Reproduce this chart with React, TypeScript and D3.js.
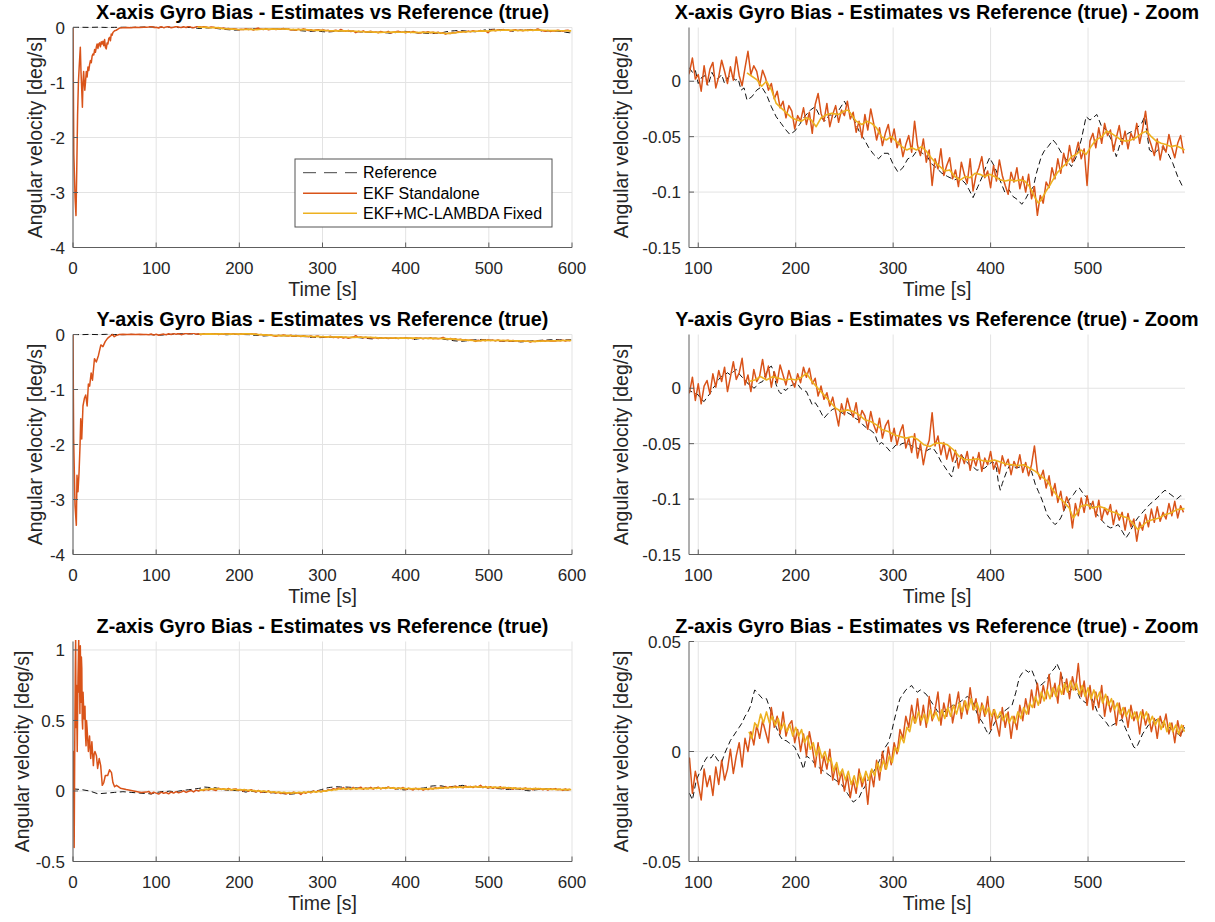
import React from 'react';
import * as d3 from 'd3';

type P = [number, number];

// ---------------- DATA ----------------
// EKF standalone estimates sampled every 3 s starting at 91 s (zoom window part)
const EKF_T0 = 91;
const EKF_DT = 3;

const ekfXZoom = [0.008,0.021,0.002,0.006,-0.009,0.014,-0.003,0.011,0.017,-0.006,
0.004,0.019,0.009,-0.002,0.013,0.001,0.022,0.005,-0.004,0.012,
0.027,0.006,0.014,0.009,-0.004,0.01,0.003,-0.008,-0.002,-0.016,
-0.009,-0.024,-0.018,-0.033,-0.022,-0.027,-0.043,-0.031,-0.036,-0.024,
-0.039,-0.028,-0.047,-0.021,-0.011,-0.029,-0.036,-0.02,-0.041,-0.03,
-0.022,-0.037,-0.026,-0.031,-0.018,-0.034,-0.028,-0.046,-0.036,-0.051,
-0.03,-0.044,-0.025,-0.038,-0.053,-0.042,-0.058,-0.047,-0.039,-0.055,
-0.043,-0.06,-0.052,-0.068,-0.057,-0.049,-0.064,-0.036,-0.058,-0.067,
-0.052,-0.073,-0.062,-0.094,-0.07,-0.079,-0.061,-0.085,-0.076,-0.069,
-0.088,-0.08,-0.095,-0.073,-0.084,-0.092,-0.07,-0.099,-0.085,-0.078,
-0.068,-0.087,-0.081,-0.096,-0.076,-0.09,-0.071,-0.085,-0.094,-0.102,
-0.082,-0.091,-0.078,-0.097,-0.086,-0.1,-0.084,-0.106,-0.095,-0.121,
-0.103,-0.11,-0.091,-0.096,-0.078,-0.088,-0.07,-0.083,-0.065,-0.076,
-0.058,-0.073,-0.066,-0.055,-0.07,-0.061,-0.094,-0.054,-0.047,-0.06,
-0.042,-0.056,-0.038,-0.049,-0.044,-0.063,-0.051,-0.04,-0.057,-0.045,
-0.061,-0.047,-0.053,-0.038,-0.056,-0.043,-0.027,-0.05,-0.058,-0.067,
-0.052,-0.071,-0.058,-0.064,-0.048,-0.06,-0.069,-0.056,-0.049,-0.065];

const ekfYZoom = [-0.004,0.01,-0.011,0.004,-0.014,0.002,0.007,-0.005,0.013,0.001,
0.016,0.006,0.019,-0.003,0.01,0.024,0.008,0.014,0.027,0.003,
0.012,-0.003,0.017,0.006,0.011,0.026,0.009,0.02,0.001,0.015,
0.005,0.021,0.012,0.003,0.016,0.007,0.001,0.013,0.005,0.019,
0.01,0.018,0.004,0.009,-0.007,0.002,-0.01,-0.004,-0.016,-0.008,
-0.021,-0.034,-0.014,-0.024,-0.009,-0.019,-0.026,-0.013,-0.031,-0.02,
-0.025,-0.037,-0.021,-0.033,-0.04,-0.027,-0.045,-0.034,-0.029,-0.048,
-0.036,-0.051,-0.04,-0.033,-0.054,-0.045,-0.058,-0.041,-0.063,-0.05,
-0.069,-0.055,-0.047,-0.022,-0.052,-0.043,-0.06,-0.049,-0.064,-0.053,
-0.066,-0.056,-0.072,-0.06,-0.068,-0.057,-0.074,-0.062,-0.07,-0.058,
-0.075,-0.063,-0.069,-0.057,-0.073,-0.066,-0.077,-0.061,-0.07,-0.064,
-0.078,-0.066,-0.072,-0.06,-0.076,-0.067,-0.079,-0.069,-0.052,-0.075,
-0.082,-0.074,-0.09,-0.079,-0.097,-0.086,-0.103,-0.093,-0.11,-0.098,
-0.105,-0.126,-0.104,-0.115,-0.099,-0.112,-0.097,-0.109,-0.102,-0.116,
-0.101,-0.119,-0.108,-0.114,-0.105,-0.123,-0.11,-0.119,-0.112,-0.128,
-0.113,-0.125,-0.118,-0.138,-0.121,-0.128,-0.114,-0.125,-0.109,-0.121,
-0.107,-0.12,-0.112,-0.118,-0.104,-0.115,-0.102,-0.117,-0.106,-0.112];

const ekfZZoom = [-0.003,-0.019,-0.009,-0.015,-0.022,-0.008,-0.016,-0.011,-0.02,-0.007,
-0.015,-0.004,-0.013,-0.008,0.001,-0.01,-0.002,0.004,-0.007,0.006,
0.0,0.009,0.003,0.012,0.006,0.014,0.009,0.004,0.02,0.011,
0.016,0.008,0.018,0.007,0.012,0.014,0.004,0.01,0.0,0.008,
-0.002,0.009,0.002,-0.007,0.004,-0.01,-0.002,-0.008,0.001,-0.013,
-0.006,-0.015,-0.009,-0.018,-0.011,-0.021,-0.013,-0.019,-0.008,-0.016,
-0.011,-0.024,-0.009,-0.016,-0.004,-0.013,0.0,-0.008,0.002,-0.006,
0.004,-0.001,0.01,0.006,0.016,0.011,0.021,0.013,0.024,0.012,
0.021,0.011,0.025,0.014,0.019,0.027,0.012,0.022,0.016,0.026,
0.013,0.02,0.027,0.015,0.023,0.017,0.029,0.019,0.024,0.013,
0.022,0.016,0.025,0.01,0.019,0.013,0.007,0.02,0.011,0.018,
0.006,0.016,0.01,0.021,0.014,0.024,0.017,0.028,0.02,0.031,
0.022,0.03,0.024,0.035,0.025,0.031,0.022,0.036,0.026,0.033,
0.024,0.034,0.028,0.04,0.025,0.032,0.021,0.03,0.019,0.027,
0.02,0.03,0.016,0.025,0.018,0.023,0.012,0.022,0.015,0.02,
0.011,0.021,0.014,0.018,0.008,0.019,0.012,0.017,0.009,0.015,
0.006,0.016,0.011,0.017,0.008,0.013,0.004,0.014,0.007,0.012];

// EKF standalone start-up transient (time [s], value)
const ekfXStart: P[] = [[0,0],[1,-2.3],[2.5,-3.1],[3.6,-3.42],[4.5,-2.6],[5.5,-1.6],[6.5,-1.0],[7.5,-0.7],[8.8,-0.36],[9.6,-0.8],[10.3,-1.05],[11.3,-1.45],[12,-1.0],[12.8,-0.8],[13.5,-1.0],[14.2,-1.14],[15,-1.0],[16,-0.8],[17,-0.9],[18,-0.72],[19,-0.78],[20,-0.67],[21,-0.6],[22,-0.64],[23,-0.52],[24,-0.48],[25,-0.5],[26,-0.4],[27,-0.45],[28,-0.36],[29,-0.3],[30,-0.38],[31,-0.3],[32,-0.28],[33,-0.35],[34,-0.26],[35,-0.3],[36,-0.25],[37,-0.33],[38,-0.22],[39,-0.36],[40,-0.39],[41,-0.28],[42,-0.3],[43,-0.2],[44,-0.18],[45,-0.24],[46,-0.12],[47,-0.14],[48,-0.09],[50,-0.06],[52,-0.05],[54,-0.03],[56,-0.01],[60,-0.005],[65,0.002],[70,-0.003],[75,0.004],[80,0.0],[85,0.006],[88,0.003]];
const ekfYStart: P[] = [[0,0],[0.8,-1.9],[2.4,-3.1],[4,-3.47],[4.8,-2.56],[6,-2.86],[7.3,-2.5],[8.5,-2.0],[9.3,-1.53],[10.5,-1.9],[12,-1.3],[13.7,-1.16],[15.3,-1.1],[17,-1.3],[18.5,-0.9],[20,-0.94],[21.8,-0.7],[23.4,-0.83],[25.8,-0.44],[28,-0.5],[30.6,-0.38],[33.5,-0.19],[36,-0.22],[38.7,-0.13],[41.5,-0.07],[44,-0.04],[47.5,0],[49.6,-0.04],[51.6,-0.02],[55.6,0],[60,0.003],[65,-0.002],[70,0.004],[75,0.0],[80,0.003],[85,-0.002],[88,0.002]];
const ekfZStart: P[] = [[0,0],[0.5,0.28],[1.4,-0.4],[2.3,0.51],[2.8,0.9],[3.2,1.08],[3.7,0.45],[4.2,0.75],[5.1,0.28],[5.6,0.6],[6,0.8],[6.9,1.08],[7.4,0.7],[7.9,0.87],[8.3,0.55],[8.8,1.03],[9.7,0.63],[10.1,0.95],[10.6,0.87],[11.1,0.5],[11.6,0.44],[12.1,0.7],[12.5,0.63],[13.4,0.51],[14.4,0.6],[15,0.4],[15.7,0.32],[16.3,0.5],[17,0.44],[18.5,0.28],[19.9,0.39],[21.3,0.23],[22.7,0.35],[24.5,0.18],[25.4,0.26],[26.4,0.28],[28.2,0.25],[29.6,0.16],[31.5,0.23],[33.3,0.18],[35.2,0.04],[37,0.06],[38.9,0.11],[41.7,0.11],[44,0.15],[46.3,0.13],[48,0.06],[50,0.03],[52.3,0.04],[57,0.02],[64,0.01],[73,0.0],[82,-0.01],[88,-0.008]];

// Reference (true) bias (time [s], value)
const refX: P[] = [[0,0.003],[10,0.004],[20,0.002],[30,0.006],[40,0.001],[50,0.003],[60,0.005],[70,0.002],[80,0.006],[88,0.01],
[91,0.012],[94,0.008],[97,0.01],[100,-0.002],[104,0.004],[107,0.005],[110,-0.004],[114,0.008],[117,0.003],[120,0.002],[124,0.006],[127,-0.002],[131,0.004],[134,0.005],[138,0.001],[141,0.002],[144,-0.008],[147,-0.006],[150,-0.017],[155,-0.014],[160,-0.008],[165,-0.005],[170,-0.012],[175,-0.023],[180,-0.032],[185,-0.038],[190,-0.044],[194,-0.048],[199,-0.045],[204,-0.039],[209,-0.032],[215,-0.026],[220,-0.023],[225,-0.032],[230,-0.036],[235,-0.03],[240,-0.033],[245,-0.025],[250,-0.018],[255,-0.027],[260,-0.035],[265,-0.045],[270,-0.052],[275,-0.06],[280,-0.066],[285,-0.07],[290,-0.065],[295,-0.065],[300,-0.075],[305,-0.082],[310,-0.078],[315,-0.07],[320,-0.068],[325,-0.062],[330,-0.065],[335,-0.068],[340,-0.075],[343,-0.077],[350,-0.083],[356,-0.086],[363,-0.089],[368,-0.087],[374,-0.092],[378,-0.098],[382,-0.105],[387,-0.095],[392,-0.085],[396,-0.075],[399,-0.069],[404,-0.077],[410,-0.09],[415,-0.101],[419,-0.098],[423,-0.104],[428,-0.107],[432,-0.111],[436,-0.106],[439,-0.101],[444,-0.095],[447,-0.083],[452,-0.068],[455,-0.063],[459,-0.059],[464,-0.053],[467,-0.056],[473,-0.065],[478,-0.071],[483,-0.077],[488,-0.068],[493,-0.053],[498,-0.032],[502,-0.035],[505,-0.033],[509,-0.03],[514,-0.041],[519,-0.044],[524,-0.053],[529,-0.068],[534,-0.053],[541,-0.047],[548,-0.044],[555,-0.038],[558,-0.032],[563,-0.062],[568,-0.065],[575,-0.059],[582,-0.065],[587,-0.074],[592,-0.086],[597,-0.095],[599,-0.095]];

const refY: P[] = [[0,0],[10,-0.003],[20,0.002],[30,-0.002],[40,0.003],[50,0],[60,-0.004],[70,0.002],[80,-0.002],[88,-0.001],
[91,-0.002],[95,-0.004],[100,-0.006],[103,-0.01],[106,-0.012],[109,-0.008],[112,-0.005],[115,0.0],[118,0.003],[121,0.008],[124,0.011],[127,0.012],[130,0.014],[133,0.012],[136,0.015],[139,0.017],[142,0.013],[145,0.01],[148,0.008],[151,0.004],[154,0.003],[157,0.0],[160,0.002],[163,0.005],[166,0.006],[169,0.012],[172,0.018],[175,0.02],[177,0.016],[180,0.003],[183,-0.003],[185,-0.005],[188,-0.001],[190,-0.002],[194,0.002],[197,0.003],[201,0.005],[205,0.0],[208,-0.002],[211,-0.003],[214,-0.009],[217,-0.015],[220,-0.013],[223,-0.017],[226,-0.022],[229,-0.027],[232,-0.024],[235,-0.021],[238,-0.019],[241,-0.018],[245,-0.021],[249,-0.023],[253,-0.022],[257,-0.024],[261,-0.027],[265,-0.029],[269,-0.033],[273,-0.036],[277,-0.038],[281,-0.041],[285,-0.051],[288,-0.049],[291,-0.051],[294,-0.054],[297,-0.057],[300,-0.054],[303,-0.051],[306,-0.052],[309,-0.05],[313,-0.049],[317,-0.051],[321,-0.053],[325,-0.054],[329,-0.056],[333,-0.057],[337,-0.055],[341,-0.054],[345,-0.059],[349,-0.066],[353,-0.071],[356,-0.075],[360,-0.08],[362,-0.072],[364,-0.066],[367,-0.062],[370,-0.06],[374,-0.065],[378,-0.069],[382,-0.071],[386,-0.074],[390,-0.073],[394,-0.072],[398,-0.069],[402,-0.066],[406,-0.072],[408,-0.085],[410,-0.092],[412,-0.086],[414,-0.081],[417,-0.074],[420,-0.069],[423,-0.07],[426,-0.072],[430,-0.071],[434,-0.069],[438,-0.072],[442,-0.075],[444,-0.081],[446,-0.087],[449,-0.093],[452,-0.099],[455,-0.106],[458,-0.114],[462,-0.119],[466,-0.123],[469,-0.121],[472,-0.117],[475,-0.111],[478,-0.105],[481,-0.1],[485,-0.096],[488,-0.092],[491,-0.09],[495,-0.095],[499,-0.099],[503,-0.105],[507,-0.111],[511,-0.116],[515,-0.12],[519,-0.124],[523,-0.126],[527,-0.125],[531,-0.123],[535,-0.129],[539,-0.135],[542,-0.131],[545,-0.126],[548,-0.121],[551,-0.117],[554,-0.114],[557,-0.111],[560,-0.108],[563,-0.105],[567,-0.102],[571,-0.099],[575,-0.095],[579,-0.092],[582,-0.094],[585,-0.096],[588,-0.098],[591,-0.1],[595,-0.097],[599,-0.098]];

const refZ: P[] = [[0,0.015],[10,0.01],[20,0.0],[30,-0.02],[40,-0.015],[50,-0.01],[60,-0.005],[70,-0.01],[80,-0.015],[88,-0.018],
[91,-0.019],[94,-0.022],[98,-0.013],[101,-0.01],[104,-0.007],[107,-0.004],[110,-0.002],[113,-0.003],[116,-0.001],[120,-0.004],[124,-0.005],[127,-0.001],[130,0.002],[133,0.005],[136,0.007],[139,0.009],[142,0.011],[145,0.013],[148,0.016],[151,0.018],[154,0.021],[156,0.025],[158,0.028],[160,0.027],[162,0.026],[166,0.024],[170,0.024],[174,0.019],[177,0.015],[180,0.011],[184,0.007],[187,0.005],[190,0.005],[193,0.004],[196,0.003],[199,0.002],[202,-0.001],[205,-0.004],[208,-0.008],[211,-0.002],[214,-0.003],[217,-0.004],[220,-0.006],[223,-0.007],[226,-0.008],[229,-0.009],[232,-0.01],[235,-0.011],[238,-0.012],[241,-0.013],[244,-0.014],[247,-0.015],[250,-0.017],[253,-0.019],[256,-0.021],[259,-0.023],[262,-0.022],[265,-0.021],[268,-0.018],[271,-0.016],[274,-0.013],[277,-0.011],[280,-0.009],[283,-0.007],[286,-0.004],[289,-0.001],[292,0.002],[295,0.004],[297,0.007],[299,0.01],[301,0.014],[303,0.0175],[305,0.021],[307,0.024],[310,0.026],[313,0.028],[316,0.029],[319,0.03],[322,0.028],[325,0.027],[328,0.028],[331,0.027],[334,0.026],[337,0.024],[340,0.022],[343,0.02],[346,0.018],[349,0.0175],[352,0.018],[355,0.019],[358,0.02],[361,0.021],[364,0.021],[367,0.022],[370,0.023],[373,0.024],[376,0.025],[380,0.024],[383,0.021],[386,0.0175],[389,0.015],[392,0.013],[395,0.01],[398,0.0076],[401,0.01],[404,0.013],[407,0.015],[410,0.016],[413,0.018],[416,0.019],[419,0.02],[422,0.021],[424,0.024],[426,0.027],[428,0.031],[430,0.034],[433,0.036],[436,0.037],[439,0.036],[442,0.0373],[445,0.034],[448,0.03],[451,0.03],[454,0.031],[458,0.033],[462,0.036],[466,0.038],[468,0.04],[471,0.037],[474,0.033],[477,0.03],[480,0.027],[483,0.028],[486,0.03],[489,0.027],[492,0.024],[495,0.023],[498,0.022],[501,0.023],[504,0.024],[507,0.021],[510,0.0175],[513,0.016],[516,0.0145],[519,0.013],[522,0.011],[525,0.012],[529,0.013],[532,0.014],[535,0.0145],[538,0.011],[541,0.008],[543,0.006],[545,0.004],[547,0.002],[549,0.0015],[551,0.003],[553,0.005],[556,0.008],[559,0.01],[562,0.012],[565,0.013],[568,0.014],[571,0.0145],[574,0.014],[577,0.013],[580,0.012],[583,0.011],[586,0.01],[589,0.009],[592,0.008],[595,0.007],[599,0.011]];

// EKF + MC-LAMBDA fixed (available from ~150 s)
const fixX: P[] = [[150,0.0075],[155,0.0045],[160,0.0015],[165,-0.0045],[170,0],[175,-0.0075],[180,-0.02],[185,-0.024],[191,-0.029],[196,-0.033],[201,-0.035],[206,-0.036],[211,-0.033],[216,-0.035],[221,-0.041],[226,-0.033],[232,-0.03],[237,-0.029],[244,-0.03],[249,-0.027],[254,-0.026],[257,-0.03],[262,-0.036],[268,-0.039],[273,-0.036],[278,-0.038],[283,-0.042],[288,-0.05],[293,-0.053],[298,-0.05],[303,-0.054],[309,-0.059],[314,-0.062],[319,-0.06],[324,-0.062],[329,-0.059],[334,-0.063],[339,-0.069],[344,-0.074],[348,-0.077],[353,-0.081],[358,-0.08],[363,-0.086],[369,-0.089],[374,-0.086],[379,-0.087],[384,-0.083],[389,-0.084],[394,-0.086],[399,-0.084],[404,-0.086],[410,-0.089],[415,-0.09],[420,-0.089],[425,-0.09],[430,-0.089],[435,-0.09],[440,-0.095],[445,-0.104],[449,-0.11],[452,-0.107],[457,-0.099],[462,-0.092],[468,-0.083],[473,-0.078],[478,-0.074],[483,-0.068],[488,-0.066],[493,-0.062],[498,-0.066],[503,-0.059],[508,-0.053],[514,-0.05],[519,-0.045],[524,-0.047],[529,-0.05],[534,-0.053],[539,-0.054],[544,-0.053],[549,-0.051],[555,-0.047],[560,-0.045],[565,-0.05],[570,-0.054],[575,-0.056],[580,-0.057],[585,-0.059],[590,-0.058],[595,-0.06],[599,-0.062]];
const fixY: P[] = [[152,0.006],[158,0.0075],[164,0.0105],[170,0.0075],[176.5,0.0105],[182.6,0.009],[188.6,0.0075],[194.7,0.0084],[200.7,0.0075],[206.7,0.0105],[211,0.0135],[216.8,0.006],[222.8,0],[228.9,-0.006],[235,-0.012],[241,-0.018],[247,-0.021],[253,-0.0195],[259,-0.021],[265,-0.024],[271,-0.0285],[277,-0.03],[283,-0.033],[289,-0.0375],[295,-0.039],[301,-0.042],[307,-0.0435],[313.5,-0.045],[319.5,-0.0435],[325.6,-0.0465],[331.6,-0.051],[337.7,-0.0525],[343.7,-0.0495],[349.7,-0.0495],[355.8,-0.051],[361.8,-0.0555],[367.8,-0.0615],[373.9,-0.0645],[380,-0.0645],[386,-0.0636],[392,-0.0654],[398,-0.066],[404,-0.0648],[410,-0.0666],[416,-0.0684],[422,-0.069],[428,-0.0697],[434,-0.069],[440,-0.072],[446,-0.075],[452,-0.0795],[458.5,-0.084],[462.5,-0.09],[468.6,-0.0975],[474.6,-0.102],[480.7,-0.108],[484.7,-0.117],[488.7,-0.1125],[492.7,-0.1065],[498.8,-0.105],[504.8,-0.108],[510.9,-0.1065],[516.9,-0.108],[522.9,-0.111],[529,-0.1125],[535,-0.1155],[541,-0.117],[547,-0.123],[551,-0.1275],[555,-0.1245],[561,-0.12],[567,-0.1185],[573,-0.117],[579,-0.114],[585,-0.1125],[591,-0.1095],[599,-0.1086]];
// Z fixed solution sampled every 3 s starting at 152 s
const FIXZ_T0 = 152;
const fixZValues = [0.009,0.006,0.013,0.011,0.017,0.013,0.018,0.013,0.016,0.012,
0.015,0.01,0.013,0.009,0.012,0.007,0.011,0.007,0.01,0.004,
0.007,0.001,0.004,-0.002,0.002,-0.003,0.0,-0.005,-0.003,-0.009,
-0.005,-0.011,-0.008,-0.013,-0.009,-0.015,-0.011,-0.016,-0.01,-0.014,
-0.009,-0.013,-0.008,-0.011,-0.005,-0.009,-0.004,-0.008,-0.002,-0.005,
0.002,0.0,0.007,0.004,0.011,0.009,0.016,0.013,0.018,0.014,
0.017,0.013,0.019,0.015,0.018,0.014,0.019,0.015,0.02,0.016,
0.021,0.017,0.022,0.018,0.023,0.019,0.024,0.019,0.022,0.018,
0.021,0.017,0.02,0.016,0.019,0.015,0.018,0.014,0.017,0.013,
0.016,0.013,0.018,0.015,0.02,0.017,0.022,0.02,0.025,0.021,
0.027,0.023,0.028,0.024,0.029,0.025,0.03,0.026,0.031,0.027,
0.032,0.028,0.031,0.026,0.03,0.025,0.029,0.024,0.028,0.024,
0.027,0.022,0.026,0.021,0.024,0.019,0.022,0.017,0.02,0.016,
0.019,0.015,0.018,0.014,0.018,0.015,0.018,0.013,0.016,0.012,
0.015,0.01,0.014,0.009,0.013,0.009,0.012,0.008,0.012,0.009];

// Axis ticks
const fullXTicks = [0, 100, 200, 300, 400, 500, 600];
const zoomXTicks = [100, 200, 300, 400, 500];
const xyFullYTicks = [-4, -3, -2, -1, 0];
const zFullYTicks = [-0.5, 0, 0.5, 1];
const xyZoomYTicks = [-0.15, -0.1, -0.05, 0];
const zZoomYTicks = [-0.05, 0, 0.05];

const legendLabels = ['Reference', 'EKF Standalone', 'EKF+MC-LAMBDA Fixed'];
const axisNames = ['X', 'Y', 'Z'];

// ---------------- STYLE / LAYOUT ----------------
const FONT = '"Liberation Sans", Arial, Helvetica, sans-serif';
const C_REF = '#111111';
const C_EKF = '#D95319';
const C_FIX = '#EDB120';
const C_GRID = '#e3e3e3';
const C_AXIS = '#5e5e5e';
const C_TEXT = '#262626';

const COLS = [{ x0: 73, x1: 572 }, { x0: 689, x1: 1185 }];
const ROWS = [{ y0: 27.5, y1: 247.5 }, { y0: 334.5, y1: 554.5 }, { y0: 641.5, y1: 861.5 }];

function sampled(t0: number, dt: number, vals: number[]): P[] {
  return vals.map((v, i) => [t0 + i * dt, v] as P);
}

const ekfSeries = [
  ekfXStart.concat(sampled(EKF_T0, EKF_DT, ekfXZoom)),
  ekfYStart.concat(sampled(EKF_T0, EKF_DT, ekfYZoom)),
  ekfZStart.concat(sampled(EKF_T0, EKF_DT, ekfZZoom)),
];
const refSeries = [refX, refY, refZ];
const fixSeries = [fixX, fixY, sampled(FIXZ_T0, 3, fixZValues)];

interface PanelCfg {
  id: string;
  col: number;
  row: number;
  title: string;
  xDomain: [number, number];
  yDomain: [number, number];
  xTicks: number[];
  yTicks: number[];
  ylabelX: number;
  legend: boolean;
  k: number;
}

const fmt = (v: number) => String(Math.round(v * 1000) / 1000);

function Panel({ cfg }: { cfg: PanelCfg }) {
  const { x0, x1 } = COLS[cfg.col];
  const { y0, y1 } = ROWS[cfg.row];
  const x = d3.scaleLinear().domain(cfg.xDomain).range([x0, x1]);
  const y = d3.scaleLinear().domain(cfg.yDomain).range([y1, y0]);
  const line = d3.line<P>().x((d) => x(d[0])).y((d) => y(d[1]));
  const clipId = `clip-${cfg.id}`;
  const cx = (x0 + x1) / 2;
  const ref = refSeries[cfg.k];
  const ekf = ekfSeries[cfg.k];
  const fix = fixSeries[cfg.k];
  return (
    <g>
      <defs>
        <clipPath id={clipId}>
          <rect x={x0} y={y0 - 1.5} width={x1 - x0} height={y1 - y0 + 1.5} />
        </clipPath>
      </defs>
      {cfg.xTicks.map((t) => (
        <line key={'gx' + t} x1={x(t)} x2={x(t)} y1={y0} y2={y1} stroke={C_GRID} strokeWidth={1} />
      ))}
      {cfg.yTicks.map((t) => (
        <line key={'gy' + t} x1={x0} x2={x1} y1={y(t)} y2={y(t)} stroke={C_GRID} strokeWidth={1} />
      ))}
      <g clipPath={`url(#${clipId})`} fill="none" strokeLinejoin="round">
        <path d={line(ref) || ''} stroke={C_REF} strokeWidth={1} strokeDasharray="6,3.5" />
        <path d={line(ekf) || ''} stroke={C_EKF} strokeWidth={1.5} />
        <path d={line(fix) || ''} stroke={C_FIX} strokeWidth={1.6} />
      </g>
      <line x1={x0} x2={x1} y1={y1} y2={y1} stroke={C_AXIS} strokeWidth={1} />
      <line x1={x0} x2={x0} y1={y0} y2={y1} stroke={C_AXIS} strokeWidth={1} />
      {cfg.xTicks.map((t) => (
        <g key={'tx' + t}>
          <line x1={x(t)} x2={x(t)} y1={y1} y2={y1 - 5} stroke={C_AXIS} strokeWidth={1} />
          <text x={x(t)} y={y1 + 26} textAnchor="middle" fontSize={17} fill={C_TEXT}>{fmt(t)}</text>
        </g>
      ))}
      {cfg.yTicks.map((t) => (
        <g key={'ty' + t}>
          <line x1={x0} x2={x0 + 5} y1={y(t)} y2={y(t)} stroke={C_AXIS} strokeWidth={1} />
          <text x={x0 - 8} y={y(t)} dy="0.36em" textAnchor="end" fontSize={17} fill={C_TEXT}>{fmt(t)}</text>
        </g>
      ))}
      <text x={cx} y={y1 + 48.5} textAnchor="middle" fontSize={19.5} fill={C_TEXT}>Time [s]</text>
      <text transform={`translate(${cfg.ylabelX},${(y0 + y1) / 2}) rotate(-90)`} textAnchor="middle" dy="0.36em" fontSize={19.5} fill={C_TEXT}>Angular velocity [deg/s]</text>
      <text x={cx} y={y0 - 9} textAnchor="middle" fontSize={19.8} fontWeight="bold" fill="#000">{cfg.title}</text>
      {cfg.legend && <Legend x0={295} y0={159} />}
    </g>
  );
}

function Legend({ x0, y0 }: { x0: number; y0: number }) {
  const colors = [C_REF, C_EKF, C_FIX];
  const rowY = [13.7, 34.3, 54.3];
  return (
    <g>
      <rect x={x0} y={y0} width={257} height={68} fill="#fff" stroke="#555" strokeWidth={1} />
      {legendLabels.map((lab, i) => (
        <g key={lab}>
          <line x1={x0 + 8} x2={x0 + 62} y1={y0 + rowY[i]} y2={y0 + rowY[i]} stroke={i === 0 ? '#444' : colors[i]}
            strokeWidth={i === 0 ? 1 : 1.4} strokeDasharray={i === 0 ? '13,8' : undefined} />
          <text x={x0 + 68} y={y0 + rowY[i]} dy="0.36em" fontSize={16} fill="#000">{lab}</text>
        </g>
      ))}
    </g>
  );
}

const panels: PanelCfg[] = [];
axisNames.forEach((a, k) => {
  const isZ = a === 'Z';
  panels.push({
    id: `full${a}`, col: 0, row: k, k,
    title: `${a}-axis Gyro Bias - Estimates vs Reference (true)`,
    xDomain: [0, 600], yDomain: isZ ? [-0.5, 1.06] : [-4, 0],
    xTicks: fullXTicks, yTicks: isZ ? zFullYTicks : xyFullYTicks,
    ylabelX: isZ ? 22 : 35, legend: k === 0,
  });
  panels.push({
    id: `zoom${a}`, col: 1, row: k, k,
    title: `${a}-axis Gyro Bias - Estimates vs Reference (true) - Zoom`,
    xDomain: [90.5, 599.5], yDomain: isZ ? [-0.05, 0.05] : [-0.15, 0.0485],
    xTicks: zoomXTicks, yTicks: isZ ? zZoomYTicks : xyZoomYTicks,
    ylabelX: 621, legend: false,
  });
});

export default function App() {
  return (
    <div style={{ position: 'absolute', left: 0, top: 0, width: 1215, height: 922, background: '#fff' }}>
      <svg width={1215} height={922} style={{ display: 'block', fontFamily: FONT }}>
        <rect x={0} y={0} width={1215} height={922} fill="#fff" />
        {panels.map((p) => <Panel key={p.id} cfg={p} />)}
      </svg>
    </div>
  );
}
